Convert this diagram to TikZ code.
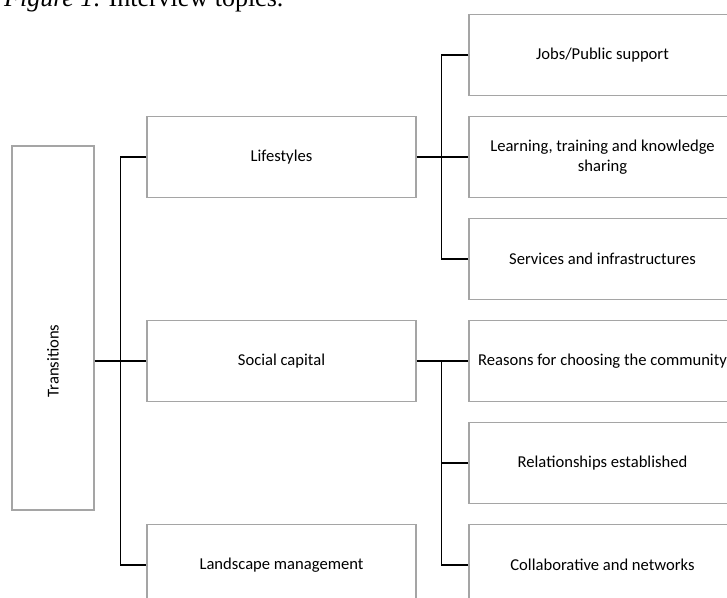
\documentclass[tikz,border=0pt]{standalone}
\usepackage{fontspec}
\setmainfont{Carlito}
\newfontfamily\capfont{Liberation Serif}
\definecolor{boxline}{RGB}{165,165,165}
\begin{document}
\begin{tikzpicture}[x=1pt,y=-1pt,
  topicbox/.style={draw=boxline, line width=1.1pt, fill=white, inner sep=0pt,
    minimum height=81pt, align=center, font=\fontsize{16.6}{19.5}\selectfont},
  midbox/.style={topicbox, minimum width=269pt},
  rightbox/.style={topicbox, minimum width=267pt},
  conn/.style={draw=black, line width=1.5pt}]
\useasboundingbox (0,0) rectangle (727,597);
\clip (0,0) rectangle (727,597);
\node[anchor=base west, inner sep=0pt, font=\capfont\fontsize{26}{30}\selectfont] (cap) at (4,6) {\textit{Figure 1}. Interview topics.};
% Transitions
\node[draw=boxline, line width=1.1pt, fill=white, inner sep=0pt, minimum width=82pt, minimum height=364pt] (trans) at (53,328) {};
\node[rotate=90, inner sep=0pt, font=\fontsize{16.6}{19.5}\selectfont] (translabel) at (53,361) {Transitions};
% middle column
\node[midbox] (life) at (281.5,157) {Lifestyles};
\node[midbox] (soc) at (281.5,361) {Social capital};
\node[midbox] (land) at (281.5,565) {Landscape management};
% right column
\node[rightbox] (jobs) at (602.5,55) {Jobs/Public support};
\node[rightbox] (learn) at (602.5,157) {Learning, training and knowledge\\sharing};
\node[rightbox] (serv) at (602.5,259) {Services and infrastructures};
\node[rightbox] (reas) at (602.5,361) {Reasons for choosing the community};
\node[rightbox] (rel) at (602.5,463) {Relationships established};
\node[rightbox] (coll) at (602.5,565) {Collaborative and networks};
% connectors
\draw[conn] (trans.east |- soc.west) -- (soc.west);
\draw[conn] (life.west) -- ++(-26,0) |- (land.west);
\draw[conn] (life.east) -- (learn.west);
\draw[conn] (jobs.west) -- ++(-27,0) |- (serv.west);
\draw[conn] (soc.east) -- (reas.west);
\draw[conn] ([xshift=-27pt]reas.west) |- (coll.west);
\draw[conn] ([xshift=-27pt]rel.west) -- (rel.west);
\end{tikzpicture}
\end{document}
